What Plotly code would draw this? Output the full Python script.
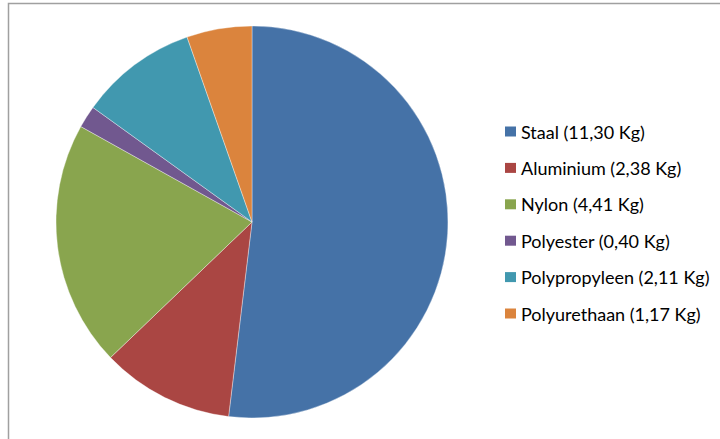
import plotly.graph_objects as go

labels = ["Staal", "Aluminium", "Nylon", "Polyester", "Polypropyleen", "Polyurethaan"]
values = [11.30, 2.38, 4.41, 0.40, 2.11, 1.17]
colors = ["#4572A7", "#AA4643", "#89A54E", "#71588F", "#4198AF", "#DB843D"]

W, H = 720, 439

def fmt(v):
    return f"{v:.2f}".replace(".", ",")

legend_texts = [f"{l} ({fmt(v)} Kg)" for l, v in zip(labels, values)]

fig = go.Figure(go.Pie(
    labels=labels,
    values=values,
    marker=dict(colors=colors, line=dict(color="rgba(255,255,255,0.6)", width=0.6)),
    sort=False,
    direction="clockwise",
    rotation=0,
    textinfo="none",
    showlegend=False,
    domain=dict(x=[56 / W, 448 / W], y=[(H - 418) / H, (H - 26) / H]),
))

shapes = [dict(type="rect", xref="paper", yref="paper",
               x0=8.5 / W, x1=1.02, y0=-0.02, y1=1 - 3.5 / H,
               line=dict(color="#A0A0A0", width=1.5), fillcolor="rgba(0,0,0,0)")]
annotations = []
y0, dy = 131.5, 36.4
for i, (txt, c) in enumerate(zip(legend_texts, colors)):
    yc = y0 + i * dy
    shapes.append(dict(type="rect", xref="paper", yref="paper",
                       x0=505 / W, x1=516 / W,
                       y0=(H - yc - 5) / H, y1=(H - yc + 5) / H,
                       line=dict(width=0), fillcolor=c))
    annotations.append(dict(xref="paper", yref="paper", x=519 / W, y=(H - yc) / H,
                            text=txt, showarrow=False, xanchor="left", yanchor="middle",
                            font=dict(family="Lato", size=18, color="#000000")))

fig.update_layout(
    width=W, height=H,
    margin=dict(l=0, r=0, t=0, b=0),
    paper_bgcolor="white",
    plot_bgcolor="white",
    shapes=shapes,
    annotations=annotations,
)

fig.write_html("out.html", config={"displayModeBar": False},
               post_script="document.body.style.margin='0px';")
